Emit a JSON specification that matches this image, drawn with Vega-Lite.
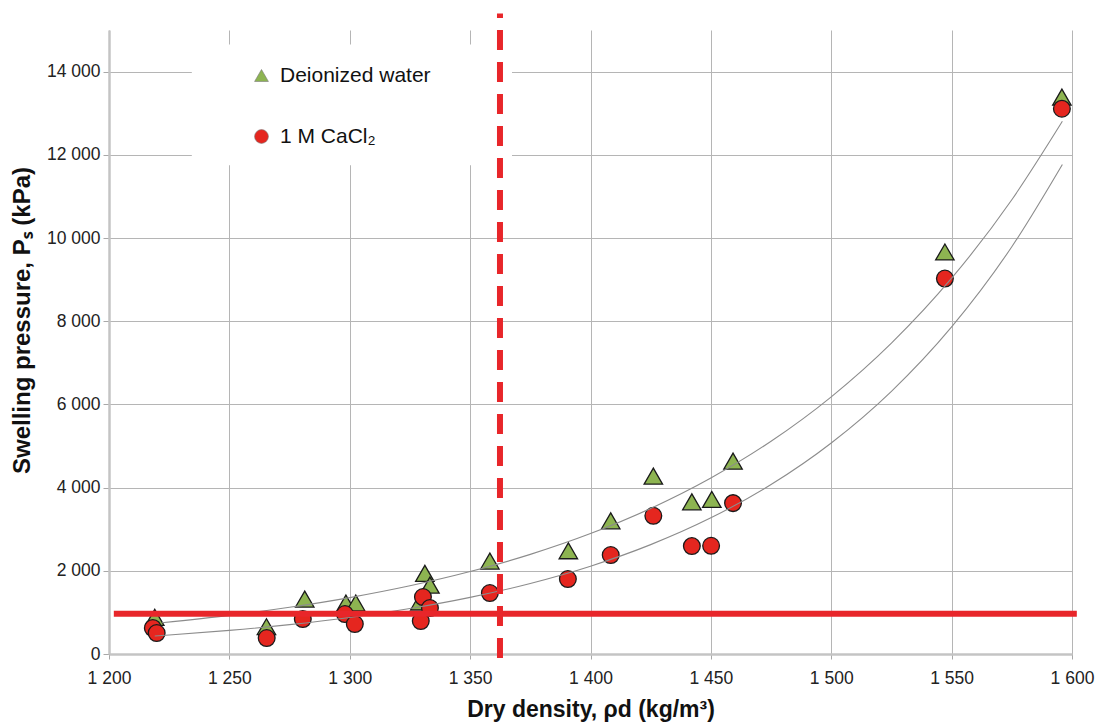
{
  "$schema": "https://vega.github.io/schema/vega-lite/v6.json",
  "autosize": {"type": "none"},
  "padding": {"left": 109, "top": 30, "right": 27, "bottom": 70},
  "width": 963,
  "height": 624,
  "background": "white",
  "config": {
    "font": "Liberation Sans",
    "view": {"stroke": null},
    "axis": {
      "labelFont": "Liberation Sans",
      "titleFont": "Liberation Sans",
      "labelColor": "#222222",
      "titleColor": "#111111",
      "gridColor": "#b5b5b5",
      "gridWidth": 1,
      "domainColor": "#c4c4c4",
      "domainWidth": 2.5,
      "tickColor": "#a8a8a8",
      "labelFlush": false
    }
  },
  "datasets": {
    "pts": [
      {"series": "Deionized water", "x": 1219, "y": 880},
      {"series": "Deionized water", "x": 1265.4, "y": 656},
      {"series": "Deionized water", "x": 1281.3, "y": 1321},
      {"series": "Deionized water", "x": 1298.4, "y": 1225},
      {"series": "Deionized water", "x": 1302.5, "y": 1225},
      {"series": "Deionized water", "x": 1329.1, "y": 1250},
      {"series": "Deionized water", "x": 1331.2, "y": 1938},
      {"series": "Deionized water", "x": 1333.3, "y": 1657},
      {"series": "Deionized water", "x": 1358.2, "y": 2234},
      {"series": "Deionized water", "x": 1390.8, "y": 2481},
      {"series": "Deionized water", "x": 1408.4, "y": 3202},
      {"series": "Deionized water", "x": 1426.1, "y": 4276},
      {"series": "Deionized water", "x": 1442.1, "y": 3658},
      {"series": "Deionized water", "x": 1450.4, "y": 3716},
      {"series": "Deionized water", "x": 1459.2, "y": 4636},
      {"series": "Deionized water", "x": 1547.2, "y": 9664},
      {"series": "Deionized water", "x": 1595.8, "y": 13387},
      {"series": "1 M CaCl₂", "x": 1218.2, "y": 625},
      {"series": "1 M CaCl₂", "x": 1219.8, "y": 504},
      {"series": "1 M CaCl₂", "x": 1265.5, "y": 384},
      {"series": "1 M CaCl₂", "x": 1280.5, "y": 841},
      {"series": "1 M CaCl₂", "x": 1298, "y": 961},
      {"series": "1 M CaCl₂", "x": 1302.1, "y": 721},
      {"series": "1 M CaCl₂", "x": 1329.5, "y": 793},
      {"series": "1 M CaCl₂", "x": 1330.4, "y": 1369},
      {"series": "1 M CaCl₂", "x": 1333.3, "y": 1105},
      {"series": "1 M CaCl₂", "x": 1358.2, "y": 1465},
      {"series": "1 M CaCl₂", "x": 1390.6, "y": 1802},
      {"series": "1 M CaCl₂", "x": 1408.4, "y": 2378},
      {"series": "1 M CaCl₂", "x": 1426.1, "y": 3322},
      {"series": "1 M CaCl₂", "x": 1442.1, "y": 2594},
      {"series": "1 M CaCl₂", "x": 1450.1, "y": 2601},
      {"series": "1 M CaCl₂", "x": 1459.2, "y": 3627},
      {"series": "1 M CaCl₂", "x": 1547.2, "y": 9025},
      {"series": "1 M CaCl₂", "x": 1595.8, "y": 13108}
    ],
    "curves": [
      {"curve": "upper", "x": 1222, "y": 750},
      {"curve": "upper", "x": 1250, "y": 928},
      {"curve": "upper", "x": 1275, "y": 1122},
      {"curve": "upper", "x": 1300, "y": 1356},
      {"curve": "upper", "x": 1325, "y": 1639},
      {"curve": "upper", "x": 1350, "y": 1981},
      {"curve": "upper", "x": 1375, "y": 2395},
      {"curve": "upper", "x": 1400, "y": 2895},
      {"curve": "upper", "x": 1425, "y": 3500},
      {"curve": "upper", "x": 1450, "y": 4231},
      {"curve": "upper", "x": 1475, "y": 5114},
      {"curve": "upper", "x": 1500, "y": 6182},
      {"curve": "upper", "x": 1525, "y": 7473},
      {"curve": "upper", "x": 1550, "y": 9033},
      {"curve": "upper", "x": 1575, "y": 10920},
      {"curve": "upper", "x": 1596, "y": 12805},
      {"curve": "lower", "x": 1219, "y": 432},
      {"curve": "lower", "x": 1225, "y": 455},
      {"curve": "lower", "x": 1250, "y": 567},
      {"curve": "lower", "x": 1275, "y": 706},
      {"curve": "lower", "x": 1300, "y": 879},
      {"curve": "lower", "x": 1325, "y": 1094},
      {"curve": "lower", "x": 1350, "y": 1362},
      {"curve": "lower", "x": 1375, "y": 1696},
      {"curve": "lower", "x": 1400, "y": 2111},
      {"curve": "lower", "x": 1425, "y": 2629},
      {"curve": "lower", "x": 1450, "y": 3273},
      {"curve": "lower", "x": 1475, "y": 4074},
      {"curve": "lower", "x": 1500, "y": 5073},
      {"curve": "lower", "x": 1525, "y": 6315},
      {"curve": "lower", "x": 1550, "y": 7863},
      {"curve": "lower", "x": 1575, "y": 9790},
      {"curve": "lower", "x": 1596, "y": 11769}
    ],
    "box": [{"x": 1234.4, "x2": 1367.4, "y": 11746, "y2": 14653}],
    "hline": [{"x": 1202, "x2": 1602, "y": 970}],
    "vline": [{"x": 1362.4, "y": -96, "y2": 15398}]
  },
  "layer": [
    {
      "data": {"name": "box"},
      "mark": {"type": "rect", "fill": "white", "stroke": null},
      "encoding": {
        "x": {"field": "x", "type": "quantitative", "scale": {"domain": [1200, 1600], "nice": false, "zero": false},
          "axis": {
            "values": [1200, 1250, 1300, 1350, 1400, 1450, 1500, 1550, 1600],
            "labelExpr": "replace(format(datum.value, ','), ',', ' ')",
            "labelFontSize": 17.5,
            "tickSize": 5,
            "labelPadding": 10,
            "title": "Dry density, ρd (kg/m³)",
            "titleFontSize": 23,
            "titleFontWeight": "bold",
            "titlePadding": 12
          }},
        "x2": {"field": "x2"},
        "y": {"field": "y", "type": "quantitative", "scale": {"domain": [0, 15000], "nice": false},
          "axis": {
            "values": [0, 2000, 4000, 6000, 8000, 10000, 12000, 14000],
            "labelExpr": "replace(format(datum.value, ','), ',', ' ')",
            "labelFontSize": 17.5,
            "tickSize": 6,
            "labelPadding": 3,
            "title": "Swelling pressure, Pₛ (kPa)",
            "titleFontSize": 24,
            "titleFontWeight": "bold",
            "titleX": -75,
            "titleY": 290
          }},
        "y2": {"field": "y2"}
      }
    },
    {
      "data": {"name": "pts"},
      "transform": [{"filter": "datum.series === 'Deionized water'"}],
      "mark": {"type": "point", "filled": true, "size": 340, "stroke": "#1a1a1a", "strokeWidth": 1.3, "opacity": 1},
      "encoding": {
        "x": {"field": "x", "type": "quantitative"},
        "y": {"field": "y", "type": "quantitative"},
        "shape": {"field": "series", "type": "nominal",
          "scale": {"domain": ["Deionized water", "1 M CaCl₂"], "range": ["triangle-up", "circle"]},
          "legend": {"orient": "none", "legendX": 142, "legendY": 35, "title": null, "symbolSize": 190, "labelFontSize": 21, "labelFont": "Liberation Sans", "labelColor": "#111111", "rowPadding": 39, "labelOffset": 8, "padding": 0, "symbolStrokeWidth": 0.6, "symbolStrokeColor": "#777777"}},
        "color": {"field": "series", "type": "nominal",
          "scale": {"domain": ["Deionized water", "1 M CaCl₂"], "range": ["#8db451", "#e5261f"]},
          "legend": {"orient": "none", "legendX": 142, "legendY": 35, "title": null, "symbolSize": 190, "labelFontSize": 21, "labelFont": "Liberation Sans", "labelColor": "#111111", "rowPadding": 39, "labelOffset": 8, "padding": 0, "symbolStrokeWidth": 0.6, "symbolStrokeColor": "#777777"}}
      }
    },
    {
      "data": {"name": "pts"},
      "transform": [{"filter": "datum.series !== 'Deionized water'"}],
      "mark": {"type": "point", "filled": true, "size": 280, "stroke": "#1a1a1a", "strokeWidth": 1.3, "opacity": 1},
      "encoding": {
        "x": {"field": "x", "type": "quantitative"},
        "y": {"field": "y", "type": "quantitative"},
        "shape": {"field": "series", "type": "nominal"},
        "color": {"field": "series", "type": "nominal"}
      }
    },
    {
      "data": {"name": "curves"},
      "mark": {"type": "line", "color": "#8c8c8c", "strokeWidth": 1.1, "interpolate": "monotone"},
      "encoding": {
        "x": {"field": "x", "type": "quantitative"},
        "y": {"field": "y", "type": "quantitative"},
        "detail": {"field": "curve", "type": "nominal"}
      }
    },
    {
      "data": {"name": "hline"},
      "mark": {"type": "rule", "color": "#e8262a", "strokeWidth": 6},
      "encoding": {
        "x": {"field": "x", "type": "quantitative"},
        "x2": {"field": "x2"},
        "y": {"field": "y", "type": "quantitative"}
      }
    },
    {
      "data": {"name": "vline"},
      "mark": {"type": "rule", "color": "#e8262a", "strokeWidth": 6, "strokeDash": [20, 12]},
      "encoding": {
        "x": {"field": "x", "type": "quantitative"},
        "y": {"field": "y", "type": "quantitative"},
        "y2": {"field": "y2"}
      }
    }
  ]
}
